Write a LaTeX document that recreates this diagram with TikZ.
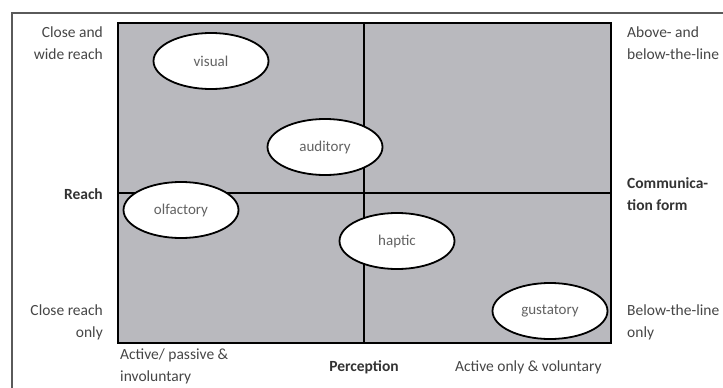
\documentclass[tikz,border=0pt]{standalone}
\usepackage{fontspec}
\setmainfont{Carlito}
\usetikzlibrary{shapes.geometric}
\definecolor{quad}{RGB}{185,185,190}
\definecolor{lab}{RGB}{70,70,70}
\definecolor{frame}{RGB}{90,90,90}
\begin{document}
\begin{tikzpicture}[x=1pt,y=-1pt,
  sense/.style={ellipse,draw=black,line width=1.8pt,fill=white,minimum width=115pt,minimum height=56pt,inner sep=0pt,
    font=\fontsize{15}{18}\selectfont,text=lab!85},
  lbl/.style={font=\fontsize{15.5}{22}\selectfont,text=lab,inner sep=0pt},
  blbl/.style={font=\fontsize{15.5}{22}\selectfont\bfseries,text=black!80,inner sep=0pt}]
\useasboundingbox (0,0) rectangle (723,388);
\fill[white] (0,0) rectangle (723,388);
% outer frame
\draw[frame,line width=1.6pt] (12,400) -- (12,13) -- (740,13);
% quadrant field
\node[draw=black,line width=1.8pt,fill=quad,minimum width=493pt,minimum height=320pt,inner sep=0pt] (box) at (364.5,183) {};
\coordinate (vt) at (364,23);
\coordinate (vb) at (364,343);
\coordinate (hl) at (118,193);
\coordinate (hr) at (611,193);
\draw[black,line width=1.4pt] (vt) -- (vb);
\draw[black,line width=1.4pt] (hl) -- (hr);
% ellipses
\node[sense] (visual) at (211,61) {visual};
\node[sense] (auditory) at (325,147) {auditory};
\node[sense] (olfactory) at (181,210) {olfactory};
\node[sense] (haptic) at (397,241) {haptic};
\node[sense] (gustatory) at (550,311) {gustatory};
% left labels
\node[lbl,align=right,anchor=north east] (lt) at (103,27) {Close and\\wide reach};
\node[blbl,anchor=east] (lm) at (103,194) {Reach};
\node[lbl,align=right,anchor=north east] (lb) at (103,305) {Close reach\\only};
% right labels
\node[lbl,align=left,anchor=north west] (rt) at (627,27) {Above- and\\below-the-line};
\node[blbl,align=left,anchor=north west] (rm) at (627,177) {Communica-\\tion form};
\node[lbl,align=left,anchor=north west] (rb) at (627,305) {Below-the-line\\only};
% bottom labels
\node[lbl,align=left,anchor=north west] (bl) at (120,349) {Active/ passive \&\\involuntary};
\node[blbl] (bm) at (364,367) {Perception};
\node[lbl,anchor=west] (br) at (455,367) {Active only \& voluntary};
\end{tikzpicture}
\end{document}
